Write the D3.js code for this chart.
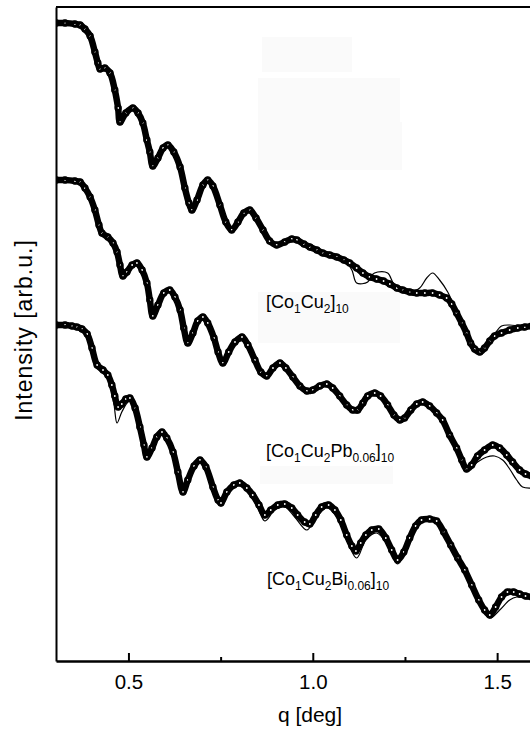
<!DOCTYPE html>
<html>
<head>
<meta charset="utf-8">
<script src="https://cdn.jsdelivr.net/npm/d3@7"></script>
<style>
  html, body { margin: 0; padding: 0; background: #fff; }
  svg { display: block; }
  text { font-family: "Liberation Sans", Arial, Helvetica, sans-serif; fill: #000; }
</style>
</head>
<body>
<svg id="chart" width="530" height="731"></svg>
<script>
// ---- data (q in deg, intensity in arbitrary units, curves offset vertically) ----
const xTicks = [0.5, 1.0, 1.5];
const xMinorTicks = [0.75, 1.25];
const seriesNames = ["[Co1Cu2]10", "[Co1Cu2Pb0.06]10", "[Co1Cu2Bi0.06]10"];

const dataCoCu = [[.304,638],[.328,638],[.355,637],[.369,636],[.382,632],[.396,625],[.409,609],[.417,598],[.423,592],[.436,593],[.450,588],[.463,571],[.472,553],[.477,539],[.493,548],[.512,553],[.526,548],[.539,538],[.550,521],[.558,509],[.566,495],[.580,503],[.594,513],[.607,516],[.623,509],[.640,494],[.653,473],[.664,458],[.672,451],[.686,461],[.702,476],[.715,481],[.729,475],[.748,456],[.764,439],[.780,431],[.797,439],[.813,448],[.829,451],[.846,443],[.865,431],[.883,420],[.902,416],[.924,419],[.943,422],[.957,421],[.976,417],[.992,414],[1.011,411],[1.027,408],[1.046,406],[1.065,404],[1.084,401],[1.100,398],[1.119,393],[1.136,388],[1.154,384],[1.173,382],[1.192,380],[1.209,377],[1.228,373],[1.244,371],[1.263,369],[1.282,368],[1.304,368],[1.325,368],[1.344,366],[1.363,363],[1.377,357],[1.390,348],[1.404,338],[1.417,328],[1.428,318],[1.439,312],[1.453,309],[1.466,313],[1.480,320],[1.493,325],[1.512,328],[1.534,331],[1.556,333],[1.575,334],[1.594,335]];
const fitCoCu = [[.304,638],[.369,636],[.396,625],[.409,609],[.423,592],[.436,593],[.450,588],[.463,571],[.477,538],[.493,548],[.512,553],[.539,538],[.558,509],[.566,494],[.585,506],[.607,516],[.640,494],[.659,461],[.672,450],[.694,471],[.715,481],[.748,456],[.780,430],[.808,447],[.829,451],[.865,431],[.902,415],[.938,421],[.965,419],[1.027,408],[1.087,400],[1.106,391],[1.119,378],[1.149,379],[1.160,386],[1.176,389],[1.203,388],[1.222,376],[1.263,369],[1.290,373],[1.309,383],[1.325,388],[1.344,381],[1.366,369],[1.390,349],[1.417,327],[1.439,311],[1.453,309],[1.472,316],[1.493,327],[1.512,335],[1.534,336],[1.561,335],[1.594,335]];

const dataCoCuPb = [[.304,481],[.328,481],[.355,480],[.369,479],[.382,473],[.396,464],[.409,451],[.420,436],[.428,428],[.444,424],[.458,418],[.469,409],[.477,396],[.485,385],[.496,389],[.510,396],[.523,398],[.537,391],[.550,378],[.558,361],[.566,345],[.580,356],[.596,368],[.612,371],[.626,364],[.640,351],[.650,333],[.661,318],[.675,328],[.688,340],[.702,344],[.715,338],[.732,323],[.743,309],[.756,298],[.772,309],[.789,319],[.808,324],[.824,316],[.843,301],[.859,289],[.875,285],[.892,293],[.911,298],[.927,293],[.946,284],[.965,275],[.984,270],[1.000,271],[1.019,275],[1.038,277],[1.054,273],[1.073,265],[1.092,256],[1.108,251],[1.122,251],[1.136,258],[1.149,265],[1.168,268],[1.184,265],[1.203,256],[1.220,246],[1.236,241],[1.249,243],[1.266,251],[1.282,257],[1.298,259],[1.317,255],[1.336,248],[1.352,241],[1.371,226],[1.390,213],[1.404,201],[1.417,192],[1.431,196],[1.447,205],[1.466,211],[1.488,216],[1.507,213],[1.526,206],[1.542,199],[1.561,191],[1.577,187],[1.594,185]];
const fitCoCuPb = [[.304,481],[.369,479],[.396,464],[.420,436],[.428,428],[.444,424],[.469,409],[.485,384],[.510,394],[.523,395],[.550,376],[.566,343],[.596,366],[.612,369],[.640,350],[.661,317],[.688,338],[.702,342],[.732,321],[.756,297],[.789,316],[.808,320],[.843,299],[.875,284],[.911,295],[.946,283],[.984,269],[1.019,273],[1.038,275],[1.073,264],[1.114,249],[1.149,263],[1.168,266],[1.203,255],[1.236,240],[1.266,250],[1.298,257],[1.336,247],[1.371,225],[1.404,201],[1.420,191],[1.447,199],[1.472,204],[1.493,205],[1.515,201],[1.534,192],[1.553,181],[1.569,174],[1.594,173]];

const dataCoCuBi = [[.304,336],[.328,336],[.347,335],[.360,334],[.374,332],[.388,327],[.401,313],[.415,296],[.431,291],[.444,286],[.455,276],[.463,265],[.472,254],[.482,257],[.493,262],[.504,263],[.518,253],[.531,234],[.542,216],[.550,204],[.564,213],[.577,224],[.591,229],[.604,223],[.621,209],[.634,189],[.648,169],[.661,181],[.678,195],[.694,201],[.710,194],[.729,174],[.743,161],[.751,158],[.767,169],[.786,176],[.802,178],[.821,173],[.837,166],[.854,156],[.870,146],[.886,151],[.905,156],[.924,157],[.943,153],[.959,146],[.978,139],[.992,137],[1.008,146],[1.024,154],[1.043,156],[1.060,151],[1.076,141],[1.092,126],[1.106,115],[1.117,110],[1.130,118],[1.144,126],[1.160,131],[1.179,132],[1.198,123],[1.214,111],[1.230,101],[1.247,109],[1.263,123],[1.279,135],[1.295,141],[1.317,142],[1.336,140],[1.355,129],[1.374,116],[1.393,103],[1.412,91],[1.431,76],[1.450,61],[1.466,51],[1.480,46],[1.496,54],[1.512,64],[1.528,69],[1.545,69],[1.561,67],[1.577,65],[1.594,64]];
const fitCoCuBi = [[.304,336],[.360,334],[.379,330],[.396,316],[.409,296],[.423,290],[.439,286],[.450,276],[.461,256],[.469,238],[.482,249],[.499,259],[.510,260],[.523,246],[.537,221],[.550,202],[.564,212],[.585,227],[.604,222],[.626,199],[.648,167],[.667,185],[.694,200],[.713,191],[.734,166],[.751,155],[.775,171],[.802,176],[.829,167],[.851,153],[.870,140],[.897,151],[.924,154],[.951,144],[.984,131],[1.005,141],[1.038,153],[1.065,144],[1.092,121],[1.119,103],[1.144,121],[1.173,128],[1.203,116],[1.230,97],[1.263,121],[1.295,139],[1.336,138],[1.374,115],[1.412,89],[1.453,57],[1.480,43],[1.507,51],[1.534,61],[1.553,64],[1.575,63],[1.594,63]];

// ---- layout ----
const svg = d3.select("#chart");
const mLeft = 56, mTop = 7, mBottom = 661, mRight = 534;
const x = d3.scaleLinear().domain([0.3035, 1.6]).range([mLeft, mRight]);
const y = d3.scaleLinear().domain([0, 654]).range([mBottom, mTop]);

// faint background patches (scan artefacts of the original)
const patches = [[262,37,90,35],[258,78,142,44],[258,122,144,48],[258,292,142,51],[260,466,133,18]];
svg.selectAll("rect.patch").data(patches).join("rect")
  .attr("class","patch")
  .attr("x", d=>d[0]).attr("y", d=>d[1]).attr("width", d=>d[2]).attr("height", d=>d[3])
  .attr("fill", "#fafafa");

svg.append("defs").append("clipPath").attr("id","clip")
  .append("rect").attr("x", mLeft).attr("y", mTop).attr("width", 530-mLeft).attr("height", mBottom-mTop);

const plot = svg.append("g").attr("clip-path","url(#clip)");
const line = d3.line().x(d=>x(d[0])).y(d=>y(d[1])).curve(d3.curveCatmullRom.alpha(0.5));

const series = [
  {data: dataCoCu, fit: fitCoCu},
  {data: dataCoCuPb, fit: fitCoCuPb},
  {data: dataCoCuBi, fit: fitCoCuBi}
];

series.forEach(s => {
  plot.append("path").attr("d", line(s.data))
    .attr("fill","none").attr("stroke","#000").attr("stroke-width",6.5)
    .attr("stroke-linejoin","round").attr("stroke-linecap","round");
  plot.append("g").selectAll("circle").data(s.data).join("circle")
    .attr("cx", d=>x(d[0])).attr("cy", d=>y(d[1])).attr("r", 2.3)
    .attr("fill","#fff").attr("stroke","#000").attr("stroke-width",2.8);
  plot.append("path").attr("d", line(s.fit))
    .attr("fill","none").attr("stroke","#000").attr("stroke-width",1.2);
});

// ---- axes ----
const xAxis = d3.axisBottom(x).tickValues(xTicks).tickFormat(d3.format(".1f"))
  .tickSize(-8).tickSizeOuter(0).tickPadding(13);
const gx = svg.append("g").attr("transform", `translate(0,${mBottom})`).call(xAxis);
gx.select(".domain").attr("stroke-width", 2.4);
gx.selectAll(".tick line").attr("stroke-width", 2);
gx.selectAll(".tick text").attr("font-size", 20.5).attr("font-family", "Liberation Sans, Arial, sans-serif");

const xMinor = d3.axisBottom(x).tickValues(xMinorTicks).tickFormat("").tickSize(-4).tickSizeOuter(0);
const gxm = svg.append("g").attr("transform", `translate(0,${mBottom})`).call(xMinor);
gxm.select(".domain").remove();
gxm.selectAll(".tick line").attr("stroke-width", 2);

const yAxis = d3.axisLeft(y).tickValues([]).tickSizeOuter(0);
const gy = svg.append("g").attr("transform", `translate(${mLeft},0)`).call(yAxis);
gy.select(".domain").attr("stroke-width", 2);

// top frame line
svg.append("line").attr("x1", mLeft).attr("x2", 530).attr("y1", mTop).attr("y2", mTop)
  .attr("stroke","#000").attr("stroke-width", 2.2);

// axis titles
svg.append("text").attr("x", 310).attr("y", 722).attr("text-anchor","middle")
  .attr("font-size", 21).text("q [deg]");
svg.append("text").attr("transform", "translate(32,330) rotate(-90)")
  .attr("text-anchor","middle").attr("font-size", 23).attr("letter-spacing", 1).text("Intensity [arb.u.]");

// series labels with subscripts
function label(xp, yp, parts) {
  const t = svg.append("text").attr("x", xp).attr("y", yp).attr("font-size", 18);
  parts.forEach(p => {
    const ts = t.append("tspan").text(p[0]);
    if (p[1]) ts.attr("font-size", 12).attr("dy", 4.5);
    else ts.attr("dy", p[2] || 0);
  });
}
label(266, 308, [["[Co"],["1",true],["Cu",false,-4.5],["2",true],["]",false,-4.5],["10",true]]);
label(266, 457, [["[Co"],["1",true],["Cu",false,-4.5],["2",true],["Pb",false,-4.5],["0.06",true],["]",false,-4.5],["10",true]]);
label(267, 585, [["[Co"],["1",true],["Cu",false,-4.5],["2",true],["Bi",false,-4.5],["0.06",true],["]",false,-4.5],["10",true]]);
</script>
</body>
</html>
